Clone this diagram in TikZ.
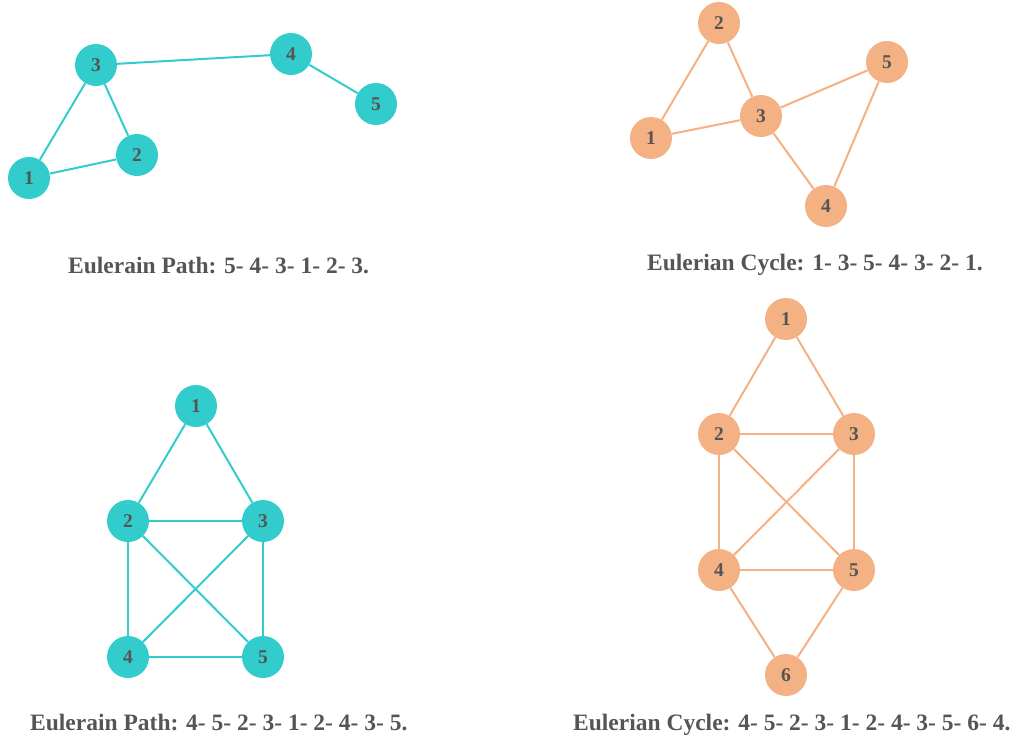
\documentclass[tikz,border=0pt]{standalone}
\usepackage{fontspec}
\setmainfont{Liberation Serif}
\definecolor{teal}{HTML}{33CCCC}
\definecolor{peach}{HTML}{F4B183}
\definecolor{txt}{HTML}{555555}
\begin{document}
\begin{tikzpicture}[x=1pt,y=-1pt,
  vt/.style={circle,fill=teal,draw=none,minimum size=42pt,inner sep=0pt,text=txt,font=\fontsize{19.5}{19.5}\selectfont\bfseries},
  vo/.style={circle,fill=peach,draw=none,minimum size=42pt,inner sep=0pt,text=txt,font=\fontsize{19.5}{19.5}\selectfont\bfseries},
  et/.style={draw=teal,line width=2pt},
  eo/.style={draw=peach,line width=2pt},
  captxt/.style={text=txt,font=\fontsize{23.5}{23.5}\selectfont\bfseries,inner sep=0pt,anchor=base west}]
\useasboundingbox (0,0) rectangle (1017,737);
% top-left
\node[vt] (a3) at (96,65) {3};
\node[vt] (a4) at (291,54) {4};
\node[vt] (a5) at (376,104) {5};
\node[vt] (a2) at (137,155) {2};
\node[vt] (a1) at (29,178) {1};
\draw[et] (a3) -- (a4);
\draw[et] (a4) -- (a5);
\draw[et] (a3) -- (a2);
\draw[et] (a3) -- (a1);
\draw[et] (a1) -- (a2);
\node[captxt] (ca) at (68,273) {Eulerain Path: 5- 4- 3- 1- 2- 3.};
% top-right
\node[vo] (b2) at (719,23) {2};
\node[vo] (b5) at (887,62) {5};
\node[vo] (b3) at (761,116) {3};
\node[vo] (b1) at (651,138) {1};
\node[vo] (b4) at (826,206) {4};
\draw[eo] (b1) -- (b2);
\draw[eo] (b2) -- (b3);
\draw[eo] (b1) -- (b3);
\draw[eo] (b3) -- (b5);
\draw[eo] (b3) -- (b4);
\draw[eo] (b5) -- (b4);
\node[captxt] (cb) at (647,270) {Eulerian Cycle: 1- 3- 5- 4- 3- 2- 1.};
% bottom-left
\node[vt] (c1) at (196,406) {1};
\node[vt] (c2) at (128,521) {2};
\node[vt] (c3) at (263,521) {3};
\node[vt] (c4) at (128,657) {4};
\node[vt] (c5) at (263,657) {5};
\draw[et] (c1) -- (c2);
\draw[et] (c1) -- (c3);
\draw[et] (c2) -- (c3);
\draw[et] (c2) -- (c4);
\draw[et] (c2) -- (c5);
\draw[et] (c3) -- (c4);
\draw[et] (c3) -- (c5);
\draw[et] (c4) -- (c5);
\node[captxt] (cc) at (30,730) {Eulerain Path: 4- 5- 2- 3- 1- 2- 4- 3- 5.};
% bottom-right
\node[vo] (d1) at (786,319) {1};
\node[vo] (d2) at (719,434) {2};
\node[vo] (d3) at (854,434) {3};
\node[vo] (d4) at (719,570) {4};
\node[vo] (d5) at (854,570) {5};
\node[vo] (d6) at (786,675) {6};
\draw[eo] (d1) -- (d2);
\draw[eo] (d1) -- (d3);
\draw[eo] (d2) -- (d3);
\draw[eo] (d2) -- (d4);
\draw[eo] (d2) -- (d5);
\draw[eo] (d3) -- (d4);
\draw[eo] (d3) -- (d5);
\draw[eo] (d4) -- (d5);
\draw[eo] (d4) -- (d6);
\draw[eo] (d5) -- (d6);
\node[captxt] (cd) at (573,730) {Eulerian Cycle: 4- 5- 2- 3- 1- 2- 4- 3- 5- 6- 4.};
\end{tikzpicture}
\end{document}
